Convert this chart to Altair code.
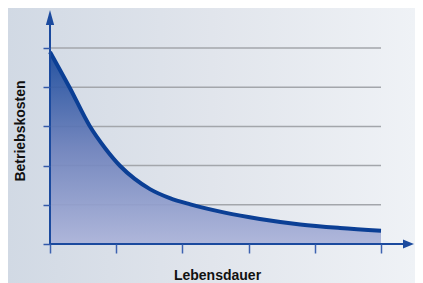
import altair as alt
import pandas as pd

# Curve data
life = [0.0, 0.30, 0.60, 0.83, 1.06, 1.28, 1.51, 1.81, 2.12, 2.64, 3.17, 3.78, 4.38, 5.0]
cost = [4.90, 3.98, 3.01, 2.45, 1.99, 1.66, 1.40, 1.17, 1.01, 0.80, 0.64, 0.50, 0.41, 0.34]
grid_vals = [1, 2, 3, 4, 5]
tick_vals = [0, 1, 2, 3, 4, 5]

W, H = 331, 196
PAD = {"left": 42, "top": 40, "right": 407 - 42 - W, "bottom": 275 - 40 - H}

df = pd.DataFrame({"x": life, "y": cost})
xs = alt.Scale(domain=[0, 5], nice=False, zero=False)
ys = alt.Scale(domain=[0, 5], nice=False, zero=False)

AXIS_BLUE = "#1b4a9e"

x_axis = alt.Axis(values=tick_vals, labels=False, grid=False, domain=False,
                  tickSize=9, tickWidth=1.5, tickColor="#3d62b0",
                  title="Lebensdauer", titleX=167, titleY=35,
                  titleBaseline="alphabetic", zindex=1)
y_axis = alt.Axis(values=tick_vals, labels=False, grid=False, domain=False,
                  tickSize=7, tickWidth=1.5, tickColor="#3358a8",
                  title="Betriebskosten", titleX=-26, titleY=82.5,
                  titleAngle=-90, titleAlign="center",
                  titleBaseline="alphabetic", zindex=1)


def X(f):
    return alt.X(f, scale=xs, axis=x_axis)


def Y(f):
    return alt.Y(f, scale=ys, axis=y_axis)


bg = alt.Chart(alt.Data(values=[{}])).mark_rect(
    color=alt.Gradient(
        gradient="linear",
        stops=[
            alt.GradientStop(color="#d1d9e4", offset=0),
            alt.GradientStop(color="#e1e5ec", offset=0.5),
            alt.GradientStop(color="#eff2f6", offset=1),
        ],
        x1=0, x2=1, y1=0, y2=0,
    )
).encode(x=alt.value(-42), x2=alt.value(365), y=alt.value(-40), y2=alt.value(235))

grid = alt.Chart(pd.DataFrame({"g": grid_vals, "a": 0, "b": 5})).mark_rule(
    color="#a3a6ab", strokeWidth=1.5
).encode(y=Y("g:Q"), x=X("a:Q"), x2="b:Q")

area = alt.Chart(df).mark_area(
    interpolate="monotone",
    fillOpacity=0.92,
    color=alt.Gradient(
        gradient="linear",
        stops=[
            alt.GradientStop(color="#16479a", offset=0),
            alt.GradientStop(color="#6c80bb", offset=0.5),
            alt.GradientStop(color="#abb3d9", offset=1),
        ],
        x1=0, x2=0, y1=0, y2=1,
    ),
).encode(x=X("x:Q"), y=Y("y:Q"))

line = alt.Chart(df).mark_line(
    interpolate="monotone", color="#0b3f95", strokeWidth=4, strokeCap="butt"
).encode(x=X("x:Q"), y=Y("y:Q"))

# axis lines with arrows
xaxis = alt.Chart(alt.Data(values=[{"a": 0, "b": 5.33, "c": 0}])).mark_rule(
    color=AXIS_BLUE, strokeWidth=2, strokeCap="square"
).encode(x=X("a:Q"), x2="b:Q", y=Y("c:Q"))

yaxis = alt.Chart(alt.Data(values=[{"a": 0, "b": 0, "c": 5.59}])).mark_rule(
    color=AXIS_BLUE, strokeWidth=2, strokeCap="square"
).encode(x=X("a:Q"), y=Y("b:Q"), y2="c:Q")

xarrow = alt.Chart(alt.Data(values=[{"x": 5.415, "y": 0}])).mark_point(
    shape="M-1,-0.8 L1,0 L-1,0.8 Z", size=121, filled=True, opacity=1,
    color=AXIS_BLUE, strokeWidth=0,
).encode(x=X("x:Q"), y=Y("y:Q"))

yarrow = alt.Chart(alt.Data(values=[{"x": 0, "y": 5.778}])).mark_point(
    shape="M-0.55,1 L0,-1 L0.55,1 Z", size=225, filled=True, opacity=1,
    color=AXIS_BLUE, strokeWidth=0,
).encode(x=X("x:Q"), y=Y("y:Q"))

chart = alt.layer(bg, grid, area, line, xaxis, yaxis, xarrow, yarrow).properties(
    width=W, height=H, padding=PAD, autosize=alt.AutoSizeParams(type="none"),
    background="#dfe4ea",
).configure_view(stroke=None).configure_axis(
    titleFont="Liberation Sans", titleFontSize=14, titleFontWeight="bold",
    titleColor="#111111",
)

chart.save("out.html", embed_options={"renderer": "svg", "actions": False})
